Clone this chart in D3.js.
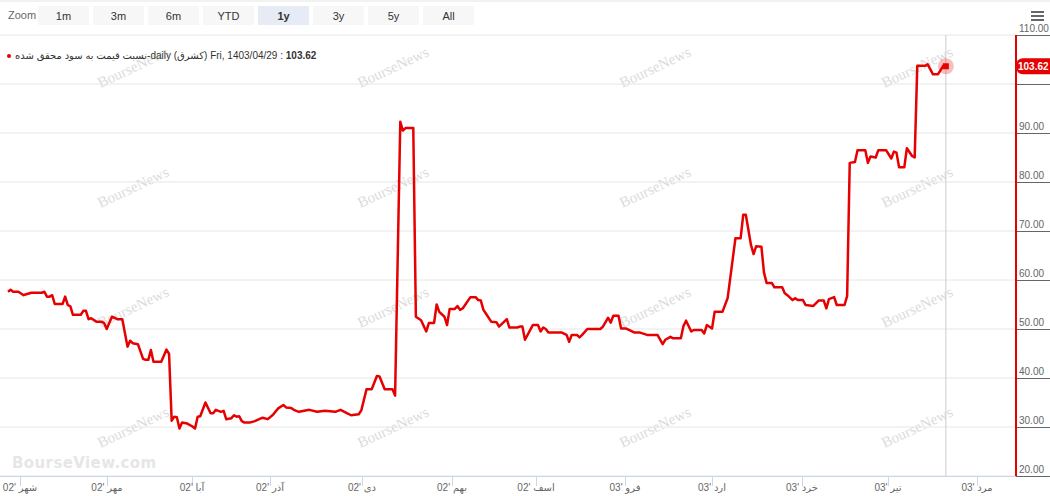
<!DOCTYPE html>
<html>
<head>
<meta charset="utf-8">
<script src="https://cdnjs.cloudflare.com/ajax/libs/d3/7.8.5/d3.min.js"></script>
<style>
  html, body { margin: 0; padding: 0; background: #fff; }
  svg { display: block; font-family: "Liberation Sans", Arial, "DejaVu Sans", sans-serif; }
</style>
</head>
<body>
<svg id="graph" width="1050" height="496"></svg>
<script>
/*******************************************************************************************/
// Data (day index along the ordinal axis, value)

var days = [0,1,2,4,6,7,9,13,14,15,16,17,18,21,22,23,24,25,28,29,30,31,32,34,36,37,38,40,41,42,44,
  46,47,48,50,52,53,54,55,56,59,61,62,63,64,65,66,67,69,71,72,73,74,76,78,79,80,82,83,84,86,87,88,89,90,91,93,
  95,98,100,102,104,106,107,109,110,112,116,119,122,126,128,131,132,135,136,138,140,142,143,145,148,149,
  151,152,153,156,157,159,161,162,164,165,166,168,169,170,172,173,174,175,178,180,181,182,183,184,186,188,189,
  191,192,193,196,197,198,199,202,204,205,206,207,208,213,215,216,217,219,220,221,223,228,229,231,232,233,235,
  236,238,241,243,246,250,252,253,255,256,259,260,261,263,264,267,268,269,271,272,275,277,280,282,283,284,
  286,287,288,290,291,292,294,295,298,299,300,302,303,304,306,307,310,312,314,315,316,318,319,322,323,
  324,326,327,330,331,332,334,335,338,340,341,342,343,345,346,348,349,350,353,354,356,358,360,361];

var values = [57.6,58.0,57.6,57.6,56.9,57.1,57.4,57.4,57.6,56.6,56.6,56.9,55.1,55.1,56.6,54.9,54.6,52.9,52.9,53.7,53.7,52.0,52.2,51.5,51.5,51.2,50.0,52.5,52.3,52.0,52.0,
  46.4,47.6,47.1,46.9,43.9,43.7,43.7,45.7,43.3,43.3,45.8,44.9,31.3,32.1,32.0,29.7,30.9,30.7,30.1,29.7,32.1,32.2,35.0,32.8,32.8,33.5,33.1,33.3,31.6,31.8,32.4,32.1,32.2,31.2,30.9,30.9,
  31.2,31.9,31.6,32.5,33.8,34.5,34.0,33.9,33.5,33.1,33.5,33.1,33.3,33.1,33.5,32.7,32.4,32.6,33.4,37.7,37.7,40.4,40.3,37.7,37.7,36.4,
  92.3,90.5,91.0,91.0,52.5,51.8,49.5,51.2,51.2,55.0,53.5,52.5,50.8,54.1,54.1,54.7,53.9,54.2,56.5,56.5,55.9,55.8,53.9,53.1,51.5,51.4,50.5,
  51.5,52.0,50.3,50.3,50.5,50.5,47.8,50.8,50.8,49.5,50.3,50.0,49.3,49.3,48.8,47.4,48.8,48.8,48.3,48.8,50.0,50.0,50.5,52.3,51.3,52.7,52.7,
  50.1,50.1,49.3,49.3,48.8,48.8,46.9,47.8,48.4,48.1,48.1,50.6,51.7,49.5,49.8,49.8,49.1,50.8,50.1,53.5,53.5,56.3,68.5,68.5,73.3,73.3,
  67.1,65.3,66.9,66.8,61.5,59.4,59.4,58.5,58.5,57.3,56.9,55.9,56.3,55.9,55.9,54.9,54.7,55.8,55.8,54.2,56.1,56.5,54.9,54.9,56.7,
  83.9,84.1,86.5,86.5,83.9,85.2,85.0,86.5,86.5,84.8,86.2,86.0,83.0,83.0,86.9,85.3,85.0,103.7,103.7,104.0,102.0,102.0,103.7,103.62];

var tickDays = [4.6, 38.1, 70.9, 100.9, 136.3, 171, 203.3, 237.6, 271.1, 305.7, 338.9, 373.1];
var tickLabels = ["شهر '02", "مهر '02", "آبا '02", "آذر '02", "دی '02", "بهم '02", "اسف '02",
  "فرو '03", "ارد '03", "خرد '03", "تیر '03", "مرد '03"];
var yTicks = [20, 30, 40, 50, 60, 70, 80, 90, 100, 110];
var zoomButtons = ['1m', '3m', '6m', 'YTD', '1y', '3y', '5y', 'All'];

var seriesName = 'نسبت قیمت به سود محقق شده-daily (کشرق)';
var lastDate = 'Fri, 1403/04/29';

/*******************************************************************************************/
// Graph

var red = '#e60000';
var svg = d3.select('#graph');
var plotLeft = 0, plotRight = 1016, plotTop = 35, plotBottom = 476;

var xScale = d3.scaleLinear().domain([0, 388]).range([8, plotRight]);
var yScale = d3.scaleLinear().domain([20, 110]).range([plotBottom, plotTop]);

// top strip
svg.append('rect').attr('x', 0).attr('y', 0).attr('width', 1050).attr('height', 2).style('fill', '#f2f2f2');

// range selector
svg.append('text').attr('x', 8).attr('y', 19).style('font-size', '11px').style('fill', '#666').text('Zoom');
var btn = svg.append('g').selectAll('g').data(zoomButtons).enter().append('g')
  .attr('transform', (d, i) => 'translate(' + (38 + i * 55) + ',6)');
btn.append('rect').attr('width', 51).attr('height', 19)
  .style('fill', d => d == '1y' ? '#e6ebf5' : '#f7f7f7');
btn.append('text').attr('x', 25.5).attr('y', 13.5).attr('text-anchor', 'middle')
  .style('font-size', '11px').style('fill', '#333').style('font-weight', d => d == '1y' ? 'bold' : null)
  .text(d => d);

// menu icon
[12, 16, 20].forEach(y => {
  svg.append('line').attr('x1', 1031).attr('x2', 1044).attr('y1', y).attr('y2', y)
    .style('stroke', '#666').style('stroke-width', 2);
});

// watermarks
var wmX = [133, 393, 655, 917], wmY = [67, 187, 307, 427];
var wm = svg.append('g');
wmY.forEach(y => wmX.forEach(x => {
  wm.append('text').attr('transform', 'translate(' + x + ',' + y + ') rotate(-25)')
    .attr('text-anchor', 'middle').attr('dy', '0.35em')
    .style('font-family', '"Liberation Serif", "DejaVu Serif", serif').style('font-size', '15px')
    .style('fill', '#dcdcdc').text('BourseNews');
}));
svg.append('text').attr('x', 12).attr('y', 468)
  .style('font-family', '"DejaVu Sans", sans-serif').style('font-weight', 'bold').style('font-size', '15px')
  .style('letter-spacing', '0.4px').style('fill', '#e6e6e6').text('BourseView.com');

// grid lines
var grid = svg.append('g');
grid.selectAll('line.grid').data(yTicks).enter().append('line')
  .attr('x1', plotLeft).attr('x2', plotRight).attr('y1', d => yScale(d)).attr('y2', d => yScale(d))
  .style('stroke', '#e6e6e6').style('stroke-width', 1);
grid.selectAll('line.tick').data(yTicks).enter().append('line')
  .attr('x1', plotRight).attr('x2', 1050).attr('y1', d => yScale(d) + 0.5).attr('y2', d => yScale(d) + 0.5)
  .style('stroke', '#666').style('stroke-width', 1);

// y labels (100 is hidden under the value label)
svg.append('g').selectAll('text').data(yTicks.filter(d => d != 100)).enter().append('text')
  .attr('x', 1019).attr('y', d => yScale(d) - 3)
  .style('font-size', '10px').style('fill', '#666').text(d => d.toFixed(2));

// x axis
var xAxis = svg.append('g');
xAxis.append('line').attr('x1', plotLeft).attr('x2', plotRight).attr('y1', plotBottom + 0.5).attr('y2', plotBottom + 0.5)
  .style('stroke', '#ccd6eb');
var xt = xAxis.selectAll('g').data(tickDays).enter().append('g')
  .attr('transform', d => 'translate(' + Math.round(xScale(d)) + ',' + plotBottom + ')');
xt.append('line').attr('x1', 0.5).attr('x2', 0.5).attr('y1', 0).attr('y2', 10).style('stroke', '#ccd6eb');
xt.append('text').attr('y', 15).attr('text-anchor', 'middle')
  .style('font-size', '10px').style('fill', '#666').text((d, i) => tickLabels[i]);

// red right axis line
svg.append('line').attr('x1', plotRight).attr('x2', plotRight).attr('y1', plotTop).attr('y2', plotBottom)
  .style('stroke', red).style('stroke-width', 2);

// crosshair
var lastX = xScale(days[days.length - 1]), lastY = yScale(values[values.length - 1]);
svg.append('line').attr('x1', lastX).attr('x2', lastX).attr('y1', plotTop).attr('y2', plotBottom)
  .style('stroke', '#cccccc').style('stroke-width', 1);

// series
var lineGen = d3.line().x(d => xScale(d[0])).y(d => yScale(d[1]));
svg.append('path').attr('d', lineGen(days.map((d, i) => [d, values[i]])))
  .style('stroke', red).style('stroke-width', 2.5).style('fill', 'none').style('stroke-linejoin', 'round');

// hover marker
svg.append('circle').attr('cx', lastX).attr('cy', lastY).attr('r', 8).style('fill', red).style('opacity', 0.25);
svg.append('rect').attr('x', lastX - 3).attr('y', lastY - 3).attr('width', 6).attr('height', 6).style('fill', red);

// last value label on axis
var lbl = svg.append('g').attr('transform', 'translate(' + plotRight + ',' + lastY + ')');
lbl.append('rect').attr('x', 0).attr('y', -8).attr('width', 40).attr('height', 16).attr('rx', 7).style('fill', red);
lbl.append('text').attr('x', 2).attr('y', 4).style('font-size', '10px').style('font-weight', 'bold')
  .style('fill', '#fff').text(values[values.length - 1].toFixed(2));

// legend
svg.append('circle').attr('cx', 9).attr('cy', 56).attr('r', 2).style('fill', red);
var leg = svg.append('text').attr('x', 15).attr('y', 59).style('font-size', '10px').style('fill', '#333');
leg.append('tspan').text(seriesName + ' ' + lastDate + ' : ');
leg.append('tspan').style('font-weight', 'bold').text(values[values.length - 1].toFixed(2));
</script>
</body>
</html>
